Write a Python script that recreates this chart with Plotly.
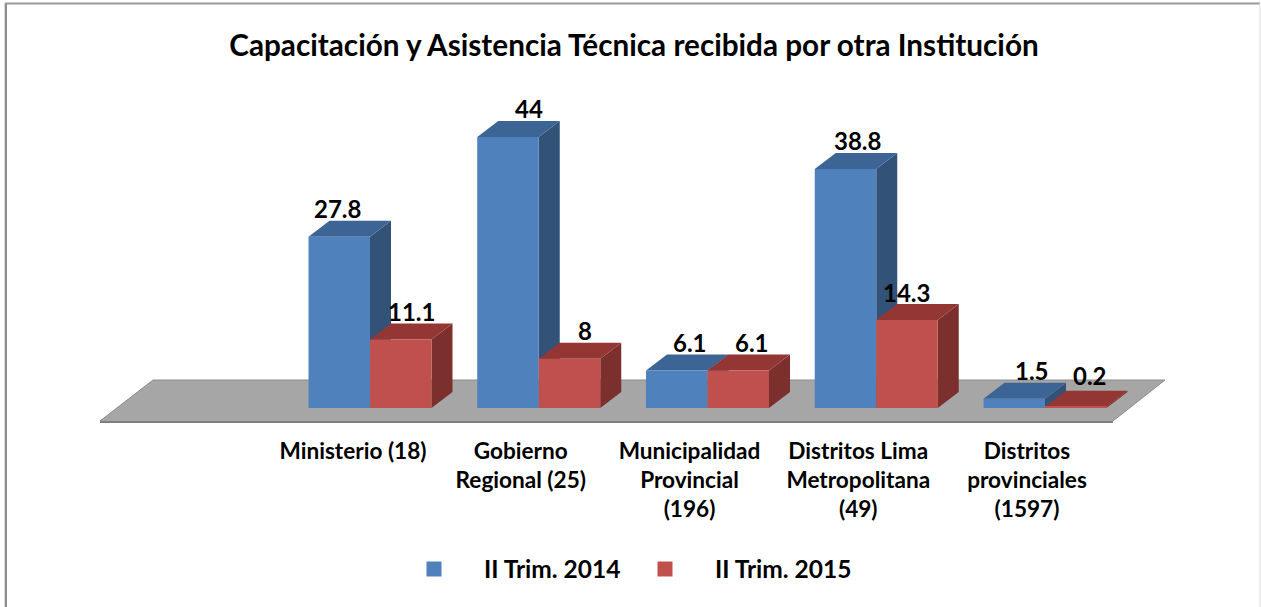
import plotly.graph_objects as go

categories = ["Ministerio (18)", "Gobierno<br>Regional (25)", "Municipalidad<br>Provincial<br>(196)",
              "Distritos Lima<br>Metropolitana<br>(49)", "Distritos<br>provinciales<br>(1597)"]
series_names = ["II Trim. 2014", "II Trim. 2015"]
values_2014 = [27.8, 44, 6.1, 38.8, 1.5]
values_2015 = [11.1, 8, 6.1, 14.3, 0.2]

W, H = 1261, 607
PX_CAT = 168.75
PX_UNIT = 6.16
X0 = 370.0
Y0 = 408.0
BOTTOM = 432
BAR_W = 61.5 / PX_CAT
DX = 21 / PX_CAT
DY = 16 / PX_UNIT

BLUE, BLUE_TOP, BLUE_SIDE = "#4F81BD", "#3C6494", "#335278"
RED, RED_TOP, RED_SIDE = "#C0504D", "#943634", "#7B302E"
FONT = "Lato, 'Open Sans', sans-serif"

label_dx_2014 = [-2, 21, 13, 12, 18]
label_dx_2015 = [11, 15, 14, -1, 14]
label_dy_2014 = [28, 28, 28, 28, 28]
label_dy_2015 = [28, 28, 28, 27, 31]
tick_dx = [-17, -18, -18, -18, -18]

def to_x(px):
    return (px - X0) / PX_CAT

def to_y(py):
    return (Y0 - py) / PX_UNIT

def poly(pts, fill):
    d = "M" + "L".join(f"{x:.5f},{y:.5f}" for x, y in pts) + "Z"
    return dict(type="path", path=d, xref="x", yref="y", fillcolor=fill, line=dict(width=0), layer="below")

def paper_line(x0, y0, x1, y1, color, width):
    return dict(type="line", xref="paper", yref="paper", x0=x0 / W, x1=x1 / W,
                y0=1 - y0 / BOTTOM, y1=1 - y1 / BOTTOM, line=dict(color=color, width=width))

def legend_at(px):
    return dict(orientation="h", x=px / W, xanchor="left", y=1 - 569 / BOTTOM, yanchor="middle",
                itemwidth=90, font=dict(family=FONT, size=24.5, color="#000000", weight="bold"),
                bgcolor="rgba(0,0,0,0)")

shapes = []
# floor
fl = [(100, 421), (153, 380), (1165, 380), (1113, 421)]
shapes.append(poly([(to_x(a), to_y(b)) for a, b in [(100, 423), (100, 421), (1113, 421), (1113, 423)]], "#7F7F7F"))
shapes.append(poly([(to_x(a), to_y(b)) for a, b in fl], "#A6A6A6"))
shapes.append(dict(type="path", path="M" + "L".join(f"{to_x(a):.5f},{to_y(b):.5f}" for a, b in fl),
                   xref="x", yref="y", line=dict(color="#8C8C8C", width=1), layer="below"))

for vals, left, front_top, side in [(values_2014, -BAR_W, BLUE_TOP, BLUE_SIDE), (values_2015, 0, RED_TOP, RED_SIDE)]:
    for i, v in enumerate(vals):
        a = i + left
        b = a + BAR_W
        shapes.append(poly([(b, 0), (b, v), (b + DX, v + DY), (b + DX, DY)], side))
        shapes.append(poly([(a, v), (b, v), (b + DX, v + DY), (a + DX, v + DY)], front_top))

# chart frame
shapes.append(paper_line(4.5, 3, 4.5, H, "#D8D8D8", 1))
shapes.append(paper_line(6, 3, 6, H, "#8E8E8E", 2))
shapes.append(paper_line(5, 3.5, 1260, 3.5, "#9A9A9A", 2))
shapes.append(paper_line(1260, 3, 1260, H, "#DCDCDC", 1))

fig = go.Figure()
xs = list(range(len(categories)))
fig.add_bar(x=xs, y=values_2014, width=BAR_W, offset=-BAR_W, marker=dict(color=BLUE, line=dict(width=0)), showlegend=False)
fig.add_bar(x=xs, y=values_2015, width=BAR_W, offset=0, marker=dict(color=RED, line=dict(width=0)), showlegend=False)
for name, col, leg in zip(series_names, [BLUE, RED], ["legend", "legend2"]):
    fig.add_scatter(x=[None], y=[None], mode="markers", name=name, legend=leg, showlegend=True,
                    marker=dict(symbol="square", size=15, color=col, line=dict(width=0)))

annotations = []
for vals, off, dxs, dys in [(values_2014, -BAR_W / 2, label_dx_2014, label_dy_2014),
                            (values_2015, BAR_W / 2, label_dx_2015, label_dy_2015)]:
    for i, v in enumerate(vals):
        annotations.append(dict(x=i + off, y=v, xref="x", yref="y", text=f"{v:g}", showarrow=False,
                                xanchor="center", yanchor="middle", xshift=dxs[i], yshift=dys[i],
                                font=dict(family=FONT, size=24, color="#000000", weight="bold")))

fig.update_layout(
    width=W, height=H, autosize=False, showlegend=True,
    paper_bgcolor="#FFFFFF", plot_bgcolor="rgba(0,0,0,0)",
    margin=dict(l=0, r=0, t=0, b=H - BOTTOM, pad=0),
    barmode="overlay",
    title=dict(text="<b>Capacitación y Asistencia Técnica recibida por otra Institución</b>",
               x=634 / W, xanchor="center", y=1 - 46 / H, yanchor="middle",
               font=dict(family=FONT, size=29.7, color="#000000")),
    xaxis=dict(range=[to_x(0), to_x(W)], showgrid=False, zeroline=False, showline=False, ticks="",
               tickmode="array", tickvals=[i + tick_dx[i] / PX_CAT for i in xs], ticktext=[f"<b>{c}</b>" for c in categories],
               tickangle=0, tickfont=dict(family=FONT, size=22.6, color="#000000"), ticklabelstandoff=3),
    yaxis=dict(range=[to_y(BOTTOM), to_y(0)], visible=False),
    legend=legend_at(384),
    legend2=legend_at(615),
    shapes=shapes, annotations=annotations,
)
fig.write_html("out.html", config={"displayModeBar": False},
               post_script="document.body.style.margin='0';document.body.style.overflow='hidden';")
